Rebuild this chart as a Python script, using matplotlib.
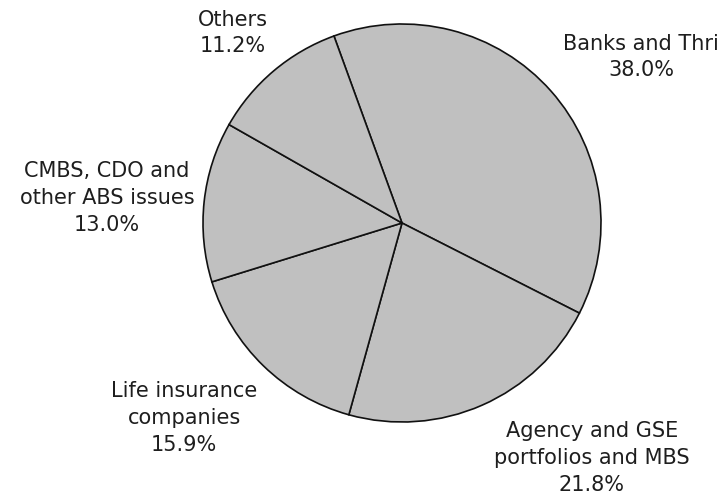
import matplotlib
matplotlib.use("Agg")
import matplotlib.pyplot as plt

# the reference shows this label cut at the right edge as "Banks and Thri"
categories = ["Banks and Thri", "Agency and GSE\nportfolios and MBS",
              "Life insurance\ncompanies", "CMBS, CDO and\nother ABS issues", "Others"]
shares = [38.0, 21.8, 15.9, 13.0, 11.2]

# label block centres in image pixels (x, y from top)
label_pos = [(641, 57), (592, 458), (184, 418), (107, 198), (233, 33)]

W, H = 727, 497
fig = plt.figure(figsize=(W / 100, H / 100), dpi=100)
fig.patch.set_facecolor("white")

cx, cy, r = 402, 223, 199
ax = fig.add_axes([(cx - r) / W, (H - cy - r) / H, 2 * r / W, 2 * r / H])
ax.pie(shares, startangle=110, counterclock=False, radius=1,
       colors=["#c0c0c0"] * len(shares),
       wedgeprops=dict(edgecolor="#111111", linewidth=1.2))
ax.set_xlim(-1, 1)
ax.set_ylim(-1, 1)
ax.set_aspect("equal")
ax.axis("off")

for cat, val, (x, y) in zip(categories, shares, label_pos):
    fig.text(x / W, 1 - y / H, f"{cat}\n{val:.1f}%", ha="center", va="center",
             multialignment="center", fontsize=15, family="DejaVu Sans",
             color="#1e1e1e", linespacing=1.42)

fig.savefig("out.png", dpi=100, facecolor="white")
